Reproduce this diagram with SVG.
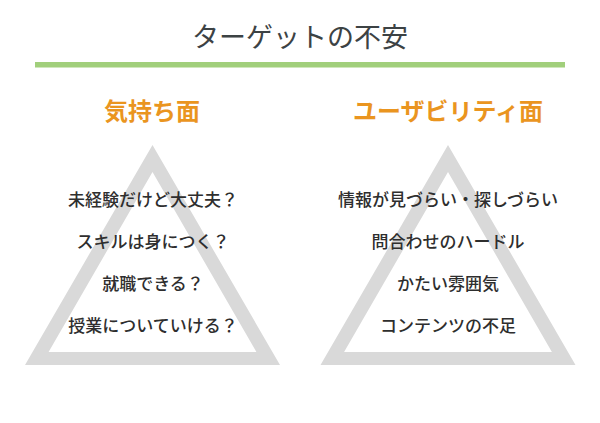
<svg xmlns="http://www.w3.org/2000/svg" width="600" height="423" viewBox="0 0 600 423">
<style>
.t{font-family:"Noto Sans CJK JP","Noto Sans",sans-serif;text-anchor:middle;fill:#2e2e2e}
.title{font-size:27px;fill:#3c4244}
.sub{font-size:24px;font-weight:bold;fill:#ea951f}
.item{font-size:17px;font-weight:500}
.tri{fill:#d9d9d9;fill-rule:evenodd}
</style>
<rect width="600" height="423" fill="#ffffff"/>
<g id="header">
<text class="t title" x="300" y="47">ターゲットの不安</text>
<rect x="35" y="62" width="530" height="5.5" fill="#a1cf7b"/>
</g>
<g id="left">
<text class="t sub" x="152" y="120">気持ち面</text>
<path class="tri" d="M152.5,145 L25,365 L280,365 Z M152.5,172 L48.6,352 L256.4,352 Z"/>
<text class="t item" x="153" y="206">未経験だけど大丈夫？</text>
<text class="t item" x="153" y="248">スキルは身につく？</text>
<text class="t item" x="153" y="290">就職できる？</text>
<text class="t item" x="153" y="332">授業についていける？</text>
</g>
<g id="right">
<text class="t sub" x="448" y="120">ユーザビリティ面</text>
<path class="tri" d="M448,145 L320.5,365 L575.5,365 Z M448,172 L344.1,352 L551.9,352 Z"/>
<text class="t item" x="448" y="206">情報が見づらい・探しづらい</text>
<text class="t item" x="448" y="248">問合わせのハードル</text>
<text class="t item" x="448" y="290">かたい雰囲気</text>
<text class="t item" x="448" y="332">コンテンツの不足</text>
</g>
</svg>
